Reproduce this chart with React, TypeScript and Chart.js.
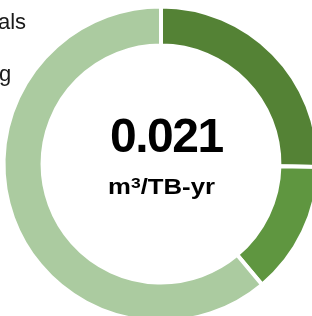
import React, { useEffect, useRef } from "react";
import { Chart, registerables } from "chart.js";

Chart.register(...registerables);

const categories = ["Segment 1", "Segment 2", "Segment 3"];
const values = [25.3, 13.6, 61.1];
const colors = ["#548235", "#5F9640", "#ABCBA0"];
const legendFragments = ["als", "g"];
const centerValue = "0.021";

export default function App() {
  const ref = useRef<HTMLCanvasElement | null>(null);

  useEffect(() => {
    if (!ref.current) return;
    const chart = new Chart(ref.current, {
      type: "doughnut",
      data: {
        labels: categories,
        datasets: [
          {
            data: values,
            backgroundColor: colors,
            borderColor: "#ffffff",
            borderWidth: 4,
            hoverOffset: 0,
          },
        ],
      },
      options: {
        animation: false,
        responsive: false,
        devicePixelRatio: 1,
        radius: 157.5,
        cutout: "75.2%",
        layout: { padding: 0 },
        plugins: {
          legend: { display: false },
          tooltip: { enabled: false },
        },
      },
    });
    return () => chart.destroy();
  }, []);

  const font = "'Liberation Sans', Arial, sans-serif";

  return (
    <div
      style={{
        position: "absolute",
        left: 0,
        top: 0,
        width: 312,
        height: 316,
        overflow: "hidden",
        background: "#ffffff",
        fontFamily: font,
      }}
    >
      <canvas
        ref={ref}
        width={330}
        height={330}
        style={{ position: "absolute", left: -4, top: -1.5, width: 330, height: 330 }}
      />
      <div
        style={{
          position: "absolute",
          left: -2,
          top: 8,
          fontSize: 22,
          lineHeight: "28px",
          color: "#1a1a1a",
          whiteSpace: "nowrap",
        }}
      >
        {legendFragments[0]}
      </div>
      <div
        style={{
          position: "absolute",
          left: -1,
          top: 60,
          fontSize: 22,
          lineHeight: "28px",
          color: "#1a1a1a",
          whiteSpace: "nowrap",
        }}
      >
        {legendFragments[1]}
      </div>
      <div
        style={{
          position: "absolute",
          left: 110,
          top: 108,
          fontSize: 48,
          fontWeight: "bold",
          lineHeight: "56px",
          letterSpacing: "-1.5px",
          color: "#000000",
          whiteSpace: "nowrap",
        }}
      >
        {centerValue}
      </div>
      <div
        style={{
          position: "absolute",
          left: 0,
          width: 323,
          top: 171,
          textAlign: "center",
          fontSize: 22,
          fontWeight: "bold",
          lineHeight: "24px",
          color: "#000000",
          whiteSpace: "nowrap",
          transform: "scaleX(1.17)",
          transformOrigin: "161.5px 50%",
        }}
      >
        m<span style={{ fontSize: 15, verticalAlign: "6px" }}>3</span>/TB-yr
      </div>
    </div>
  );
}
